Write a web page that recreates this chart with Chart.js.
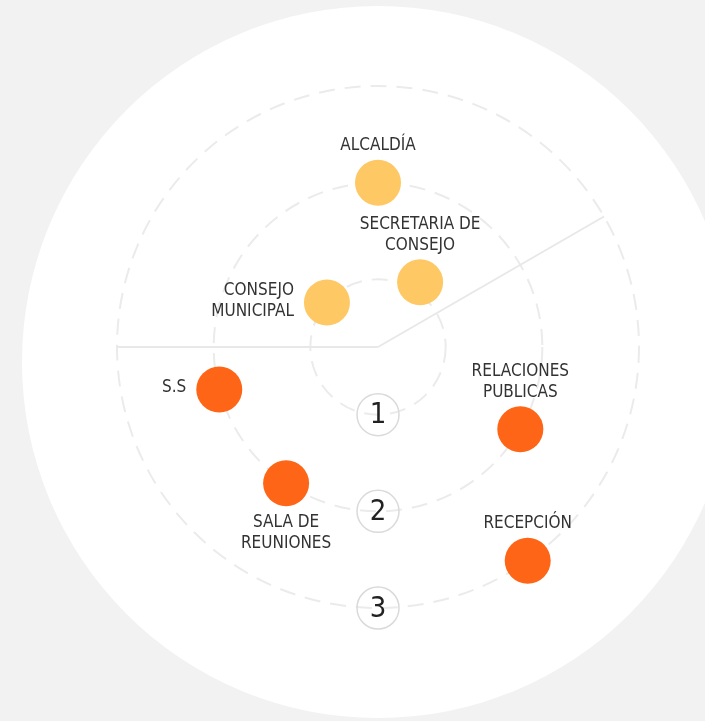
<!DOCTYPE html>
<html>
<head>
<meta charset="utf-8">
<script src="https://cdn.jsdelivr.net/npm/chart.js@4"></script>
<style>
  html, body { margin: 0; padding: 0; width: 705px; height: 721px; overflow: hidden; background: #f2f2f2; }
  #fondo { position: absolute; left: 22px; top: 6px; width: 712px; height: 712px; border-radius: 50%; background: #fff; }
  #mapa { position: absolute; left: 0; top: 0; }
</style>
</head>
<body>
<div id="fondo"></div>
<canvas id="mapa" width="705" height="721"></canvas>
<script>
const ctx = document.getElementById('mapa');

// areas, angulo (grados desde arriba, sentido horario) y anillo
const areas = [
    ['ALCALDÍA'],
    ['SECRETARIA DE', 'CONSEJO'],
    ['CONSEJO', 'MUNICIPAL'],
    ['S.S'],
    ['RELACIONES', 'PUBLICAS'],
    ['RECEPCIÓN'],
    ['SALA DE', 'REUNIONES']
];
const angulos = [0, 33, 311, 255, 120, 145, 214];
const anillos = [2, 1.1, 1, 2, 2, 3, 2];
const grupos = ['direccion', 'direccion', 'direccion', 'apoyo', 'apoyo', 'apoyo', 'apoyo'];
const niveles = [1, 2, 3];
const divisiones = [60, 270];

// donde va el texto de cada punto
const posTexto = ['arriba', 'arriba', 'izq', 'izq', 'arriba', 'arriba', 'abajo'];

const FUENTE = '"Liberation Sans Narrow", "DejaVu Sans Condensed", "Roboto", sans-serif';

const grados = [];
for (let i = 0; i < 360; i++) grados.push('');

function serie(grupo) {
    const d = new Array(360).fill(null);
    areas.forEach((a, k) => {
        if (grupos[k] === grupo) d[angulos[k]] = anillos[k];
    });
    return d;
}

const etiquetas = {
    id: 'etiquetas',
    afterDatasetsDraw(chart) {
        const c = chart.ctx;
        c.save();
        c.font = '17px ' + FUENTE;
        c.fillStyle = '#333';
        c.textBaseline = 'middle';
        areas.forEach((lineas, k) => {
            const d = grupos[k] === 'direccion' ? 0 : 1;
            const pt = chart.getDatasetMeta(d).data[angulos[k]];
            const n = lineas.length;
            lineas.forEach((t, j) => {
                if (posTexto[k] === 'arriba') {
                    c.textAlign = 'center';
                    c.fillText(t, pt.x, pt.y - 37 - (n - 1 - j) * 21);
                } else if (posTexto[k] === 'abajo') {
                    c.textAlign = 'center';
                    c.fillText(t, pt.x, pt.y + 39 + j * 21);
                } else {
                    c.textAlign = 'right';
                    c.fillText(t, pt.x - 33, pt.y - 2 + (j - (n - 1) / 2) * 21);
                }
            });
        });
        c.restore();
    }
};

const marcas = {
    id: 'marcas',
    afterDraw(chart) {
        const c = chart.ctx;
        const r = chart.scales.r;
        c.save();
        niveles.forEach(v => {
            const p = r.getPointPositionForValue(180, v);
            c.beginPath();
            c.arc(p.x, p.y, 21, 0, Math.PI * 2);
            c.strokeStyle = '#dadada';
            c.lineWidth = 1.5;
            c.stroke();
            c.fillStyle = '#222';
            c.font = '29px ' + FUENTE;
            c.textAlign = 'center';
            c.textBaseline = 'middle';
            c.fillText(String(v), p.x, p.y + 1);
        });
        c.restore();
    }
};

new Chart(ctx, {
    type: 'radar',
    data: {
        labels: grados,
        datasets: [{
            label: 'Dirección',
            data: serie('direccion'),
            backgroundColor: '#fec865',
            pointBackgroundColor: '#fec865',
            pointBorderWidth: 0,
            pointRadius: 23,
            showLine: false
        }, {
            label: 'Apoyo',
            data: serie('apoyo'),
            backgroundColor: '#fe6517',
            pointBackgroundColor: '#fe6517',
            pointBorderWidth: 0,
            pointRadius: 23,
            showLine: false
        }]
    },
    options: {
        responsive: false,
        animation: false,
        layout: { padding: { left: 117, top: 86, right: 66, bottom: 113 } },
        plugins: {
            legend: { display: false },
            tooltip: { enabled: false }
        },
        scales: {
            r: {
                min: 0.3,
                max: 3,
                ticks: { display: false, stepSize: 1 },
                pointLabels: { display: false },
                grid: { circular: true, color: '#ebebeb', lineWidth: 2 },
                border: { dash: [16, 10] },
                angleLines: {
                    color: c => divisiones.includes(c.index) ? '#e8e8e8' : 'transparent',
                    lineWidth: 2
                }
            }
        }
    },
    plugins: [etiquetas, marcas]
});
</script>
</body>
</html>
